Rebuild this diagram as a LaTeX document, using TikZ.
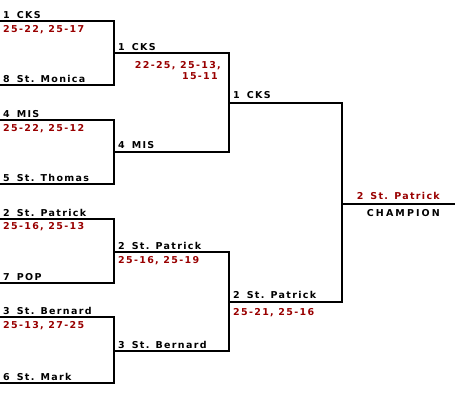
\documentclass[tikz,border=0pt]{standalone}
\usepackage{fontspec}
\newfontfamily\brk[LetterSpace=14]{DejaVu Sans}
\newfontfamily\brkwide[LetterSpace=22]{DejaVu Sans}
\definecolor{sred}{RGB}{153,0,0}
\begin{document}
\begin{tikzpicture}[x=1pt,y=-1pt,
  lbl/.style={inner sep=0pt,anchor=base west,font=\brk\bfseries\fontsize{9.5}{11}\selectfont},
  team/.style={lbl,text=black},
  score/.style={lbl,text=sred},
  bline/.style={line width=2pt,line cap=rect}]
\useasboundingbox (0,0) rectangle (455,400);
% bracket coordinates
\foreach \n/\t/\b in {a/21/85,b/120/184,c/219/283,d/317/383}{
  \coordinate (\n1) at (0,\t); \coordinate (\n2) at (114,\t);
  \coordinate (\n3) at (114,\b); \coordinate (\n4) at (0,\b);}
\coordinate (e1) at (114,53); \coordinate (e2) at (229,53);
\coordinate (e3) at (229,152); \coordinate (e4) at (114,152);
\coordinate (f1) at (114,252); \coordinate (f2) at (229,252);
\coordinate (f3) at (229,351); \coordinate (f4) at (114,351);
\coordinate (g1) at (229,103); \coordinate (g2) at (342,103);
\coordinate (g3) at (342,302); \coordinate (g4) at (229,302);
\coordinate (h1) at (342,204); \coordinate (h2) at (455,204);
\foreach \n in {a,b,c,d,e,f,g}{
  \draw[bline] (\n1) -- (\n2) -- (\n3) -- (\n4);}
\draw[bline] (h1) -- (h2);
% round 1
\node[team]  (t1) at (3,18)  {1\hspace{7pt}CKS};
\node[score] (s1) at (3,32)  {25-22, 25-17};
\node[team]  (t2) at (3,82)  {8\hspace{7pt}St. Monica};
\node[team]  (t3) at (3,117) {4\hspace{7pt}MIS};
\node[score] (s2) at (3,131) {25-22, 25-12};
\node[team]  (t4) at (3,181) {5\hspace{7pt}St. Thomas};
\node[team]  (t5) at (3,216) {2\hspace{7pt}St. Patrick};
\node[score] (s3) at (3,229) {25-16, 25-13};
\node[team]  (t6) at (3,280) {7\hspace{7pt}POP};
\node[team]  (t7) at (3,314) {3\hspace{7pt}St. Bernard};
\node[score] (s4) at (3,328) {25-13, 27-25};
\node[team]  (t8) at (3,380) {6\hspace{7pt}St. Mark};
% round 2
\node[team]  (u1) at (118,50)  {1\hspace{7pt}CKS};
\node[score,anchor=base east] (v1) at (221,68) {22-25, 25-13,};
\node[score,anchor=base east] (v1b) at (218,79) {15-11};
\node[team]  (u2) at (118,148) {4\hspace{7pt}MIS};
\node[team]  (u3) at (118,249) {2\hspace{7pt}St. Patrick};
\node[score] (v2) at (118,263) {25-16, 25-19};
\node[team]  (u4) at (118,348) {3\hspace{7pt}St. Bernard};
% round 3
\node[team]  (w1) at (233,98)  {1\hspace{7pt}CKS};
\node[team]  (w2) at (233,298) {2\hspace{7pt}St. Patrick};
\node[score] (x1) at (233,315) {25-21, 25-16};
% champion
\node[score,anchor=base east] (ch) at (440,199) {2\hspace{7pt}St. Patrick};
\node[team,anchor=base east,font=\brkwide\bfseries\fontsize{9.5}{11}\selectfont] (cl) at (440,216) {CHAMPION};
\end{tikzpicture}
\end{document}
